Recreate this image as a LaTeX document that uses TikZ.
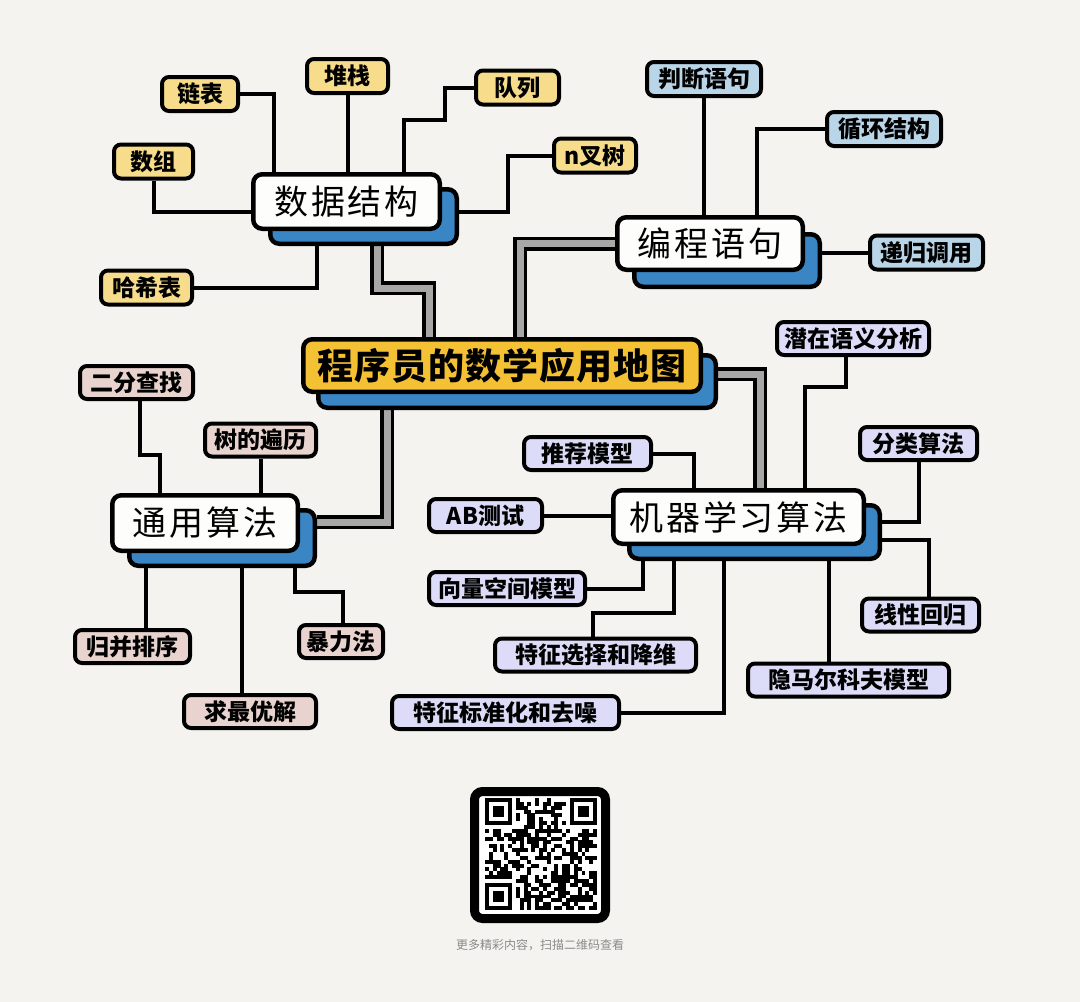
\documentclass[tikz,border=0pt]{standalone}
\usepackage{fontspec}
\newfontfamily\cjk{Noto Sans CJK SC}
\newfontfamily\cjkwide{Noto Sans CJK SC}[LetterSpace=8]
\newfontfamily\cjkmain{Noto Sans CJK SC}[LetterSpace=3]
\usetikzlibrary{calc}
\pgfdeclarelayer{back}
\pgfdeclarelayer{conn}
\pgfsetlayers{back,conn,main}
\definecolor{bgc}{HTML}{F4F3EF}
\definecolor{mainyel}{HTML}{F5C134}
\definecolor{shblue}{HTML}{3A86C5}
\definecolor{frontc}{HTML}{FDFDFB}
\definecolor{leafyel}{HTML}{F7DD8B}
\definecolor{leafblue}{HTML}{B9D5E8}
\definecolor{leafpink}{HTML}{E8D3CE}
\definecolor{leaflav}{HTML}{DCDCF8}
\definecolor{gconnc}{HTML}{A7A7A7}
\definecolor{capc}{HTML}{8A8A8A}
\begin{document}
\begin{tikzpicture}[x=1pt,y=-1pt,
  front/.style={draw=black, line width=4.5pt, fill=frontc, rounded corners=9pt, inner sep=0pt,
    font=\cjkwide\fontsize{34}{34}\selectfont},
  shad/.style={draw=black, line width=4.5pt, fill=shblue, rounded corners=9pt, inner sep=0pt},
  leaf/.style={draw=black, line width=4pt, rounded corners=7pt, inner sep=0pt,
    font=\cjk\bfseries\fontsize{23}{23}\selectfont},
  conn/.style={line width=4pt, draw=black},
  gconn/.style={draw=black, line width=3.5pt, double=gconnc, double distance=7pt}
]
\useasboundingbox (0,0) rectangle (1080,1002);
\begin{pgfonlayer}{back}
\fill[bgc] (0,0) rectangle (1080,1002);
\end{pgfonlayer}

% ---------- main ----------
\node[shad, minimum width=397.5pt, minimum height=52.5pt] (ms) at (517,381.5) {};
\node[front, fill=mainyel, minimum width=397.5pt, minimum height=52.5pt,
  font=\cjkmain\bfseries\fontsize{36}{36}\selectfont] (m) at (502,365.5) {程序员的数学应用地图};

% ---------- level 1 ----------
\node[shad, minimum width=186.5pt, minimum height=54.5pt] (dss) at (363.5,216.5) {};
\node[front, minimum width=186.5pt, minimum height=54.5pt] (ds) at (346.5,201.5) {数据结构};

\node[shad, minimum width=185.5pt, minimum height=52.5pt] (pls) at (727,260.5) {};
\node[front, minimum width=185.5pt, minimum height=52.5pt] (pl) at (710,243.5) {编程语句};

\node[shad, minimum width=185.5pt, minimum height=55.5pt] (gas) at (222,538) {};
\node[front, minimum width=185.5pt, minimum height=55.5pt] (ga) at (205,523) {通用算法};

\node[shad, minimum width=250.5pt, minimum height=53.5pt] (mls) at (754.5,532) {};
\node[front, minimum width=250.5pt, minimum height=53.5pt] (ml) at (738.5,517) {机器学习算法};

% ---------- leaves: data structures ----------
\begin{scope}[every node/.style={leaf, fill=leafyel, minimum height=34pt}]
\node[minimum width=76pt] (lb) at (200,94) {链表};
\node[minimum width=81pt] (dz) at (347.5,76) {堆栈};
\node[minimum width=83pt] (dl) at (517.5,87.5) {队列};
\node[minimum width=79pt] (sz) at (153.5,161.5) {数组};
\node[minimum width=82pt] (nt) at (595,155.5) {n叉树};
\node[minimum width=91pt] (hx) at (146.5,287.5) {哈希表};
\end{scope}

% ---------- leaves: programming ----------
\begin{scope}[every node/.style={leaf, fill=leafblue, minimum height=34pt}]
\node[minimum width=114pt] (pd) at (704,79) {判断语句};
\node[minimum width=114pt] (xh) at (884,129) {循环结构};
\node[minimum width=113pt] (dg) at (926.5,252.5) {递归调用};
\end{scope}

% ---------- leaves: general algorithms ----------
\begin{scope}[every node/.style={leaf, fill=leafpink, minimum height=33pt}]
\node[minimum width=113pt] (ef) at (136.5,382.5) {二分查找};
\node[minimum width=111pt] (sd) at (260.5,440) {树的遍历};
\node[minimum width=115pt] (gb) at (132.5,646.5) {归并排序};
\node[minimum width=84pt] (bl) at (341,641.5) {暴力法};
\node[minimum width=132pt] (qz) at (250,711.5) {求最优解};
\end{scope}

% ---------- leaves: machine learning ----------
\begin{scope}[every node/.style={leaf, fill=leaflav, minimum height=33pt}]
\node[minimum width=152pt] (yy) at (853,338.5) {潜在语义分析};
\node[minimum width=117pt] (fl) at (918.5,443.5) {分类算法};
\node[minimum width=127pt] (tj) at (587.5,453.5) {推荐模型};
\node[minimum width=113pt] (ab) at (485.5,515.5) {AB测试};
\node[minimum width=156pt] (xl) at (507,588.5) {向量空间模型};
\node[minimum width=117pt] (xx) at (920.5,615) {线性回归};
\node[minimum width=201pt] (tz) at (595.5,655) {特征选择和降维};
\node[minimum width=201pt] (ym) at (848.5,680) {隐马尔科夫模型};
\node[minimum width=227pt] (bz) at (505.5,712.5) {特征标准化和去噪};
\end{scope}

% ---------- connectors ----------
\begin{pgfonlayer}{conn}
% data structures
\draw[conn] (lb.east) -| (274,0 |- ds.north);
\draw[conn] (dz.south) -- (dz.south |- ds.north);
\draw[conn] (dl.west) -| (445,120) -| (404,0 |- ds.north);
\draw[conn] (sz.south) |- (ds.west |- 0,212);
\draw[conn] (nt.west) -| (508,212) -- (dss.east |- 0,212);
\draw[conn] (hx.east) -| (317,0 |- dss.south);
\draw[gconn] (377,0 |- dss.south) |- (429,288) -- (429,0 |- m.north);
% programming
\draw[conn] (pd.south) -- (pd.south |- pl.north);
\draw[conn] (xh.west) -| (757,0 |- pl.north);
\draw[conn] (dg.west) -- (pls.east |- dg.west);
\draw[gconn] (pl.west) -| (520,0 |- m.north);
% general algorithms
\draw[conn] (140,0 |- ef.south) |- (160,455) -- (160,0 |- ga.north);
\draw[conn] (sd.south) -- (sd.south |- ga.north);
\draw[conn] (146,0 |- gb.north) -- (146,0 |- gas.south);
\draw[conn] (242,0 |- qz.north) -- (242,0 |- gas.south);
\draw[conn] (343,0 |- bl.north) |- (295,592) -- (295,0 |- gas.south);
\draw[gconn] (387,0 |- ms.south) |- (gas.east |- 0,522);
% machine learning
\draw[conn] (846,0 |- yy.south) |- (805,387) -- (805,0 |- ml.north);
\draw[conn] (fl.south) |- (mls.east |- 0,522);
\draw[conn] (tj.east) -| (694,0 |- ml.north);
\draw[conn] (ab.east) -- (ml.west |- ab.east);
\draw[conn] (xl.east) -| (643,0 |- mls.south);
\draw[conn] (593,0 |- tz.north) |- (674,613) -- (674,0 |- mls.south);
\draw[conn] (bz.east) -| (724,0 |- mls.south);
\draw[conn] (829,0 |- ym.north) -- (829,0 |- mls.south);
\draw[conn] (929,0 |- xx.north) |- (mls.east |- 0,540);
\draw[gconn] (ms.east |- 0,374) -| (760,0 |- ml.north);
\end{pgfonlayer}

% ---------- QR code ----------
\draw[line width=9pt, rounded corners=8pt, fill=white] (474.5,791.5) rectangle (605.5,918.5);
\begin{scope}[shift={(485,798)}]
\pgfmathsetseed{7}
\foreach \i in {0,...,28}{\foreach \j in {0,...,28}{
  \pgfmathtruncatemacro\inf{or(and(\i<8,\j<8),or(and(\i>20,\j<8),and(\i<8,\j>20)))}
  \pgfmathrandominteger{\r}{0}{1}
  \ifnum\inf=0\relax\ifnum\r=1\relax\fill (\i*3.86,\j*3.86) rectangle ++(3.95,3.95);\fi\fi
}}
\foreach \ox/\oy in {0/0, 84.92/0, 0/84.92}{
  \fill (\ox,\oy) rectangle ++(27.02,27.02);
  \fill[white] (\ox+3.86,\oy+3.86) rectangle ++(19.3,19.3);
  \fill (\ox+7.72,\oy+7.72) rectangle ++(11.58,11.58);
}
\end{scope}
\node[font=\cjk\fontsize{12}{12}\selectfont, text=capc] (cap) at (540,945) {更多精彩内容，扫描二维码查看};
\end{tikzpicture}
\end{document}
